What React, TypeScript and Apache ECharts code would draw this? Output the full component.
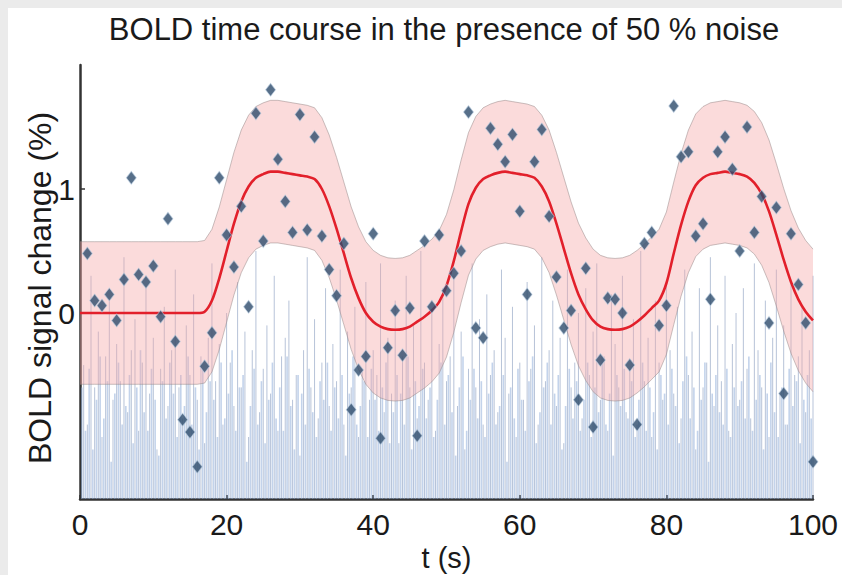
import React, { useEffect, useRef } from "react";
import * as echarts from "echarts";

// ---- data ----
const TITLE = "BOLD time course in the presence of 50 % noise";
const X_NAME = "t (s)";
const Y_NAME = "BOLD signal change (%)";
const X_TICKS = [0, 20, 40, 60, 80, 100];
const Y_TICKS = [0, 1];
const Y_MIN = -1.5;
const Y_MAX = 2;

// model (red line), one value per second, t = 0..100
const MODEL_T = [
  0, 1, 2, 3, 4, 5, 6, 7, 8, 9, 10, 11, 12, 13, 14, 15, 16, 17, 18, 19, 20,
  21, 22, 23, 24, 25, 26, 27, 28, 29, 30, 31, 32, 33, 34, 35, 36, 37, 38, 39, 40,
  41, 42, 43, 44, 45, 46, 47, 48, 49, 50, 51, 52, 53, 54, 55, 56, 57, 58, 59, 60,
  61, 62, 63, 64, 65, 66, 67, 68, 69, 70, 71, 72, 73, 74, 75, 76, 77, 78, 79, 80,
  81, 82, 83, 84, 85, 86, 87, 88, 89, 90, 91, 92, 93, 94, 95, 96, 97, 98, 99, 100,
];
const MODEL_V = [
  0, 0, 0, 0, 0, 0, 0, 0, 0, 0, 0, 0, 0, 0, 0, 0, 0, 0.01, 0.1, 0.28, 0.5,
  0.72, 0.9, 1.02, 1.09, 1.12, 1.14, 1.14, 1.13, 1.12, 1.11, 1.1, 1.08, 1.0, 0.86, 0.68, 0.48, 0.28, 0.12, 0.0, -0.07,
  -0.11, -0.13, -0.135, -0.13, -0.11, -0.07, -0.03, 0.02, 0.09, 0.22, 0.42, 0.66, 0.88, 1.01, 1.08, 1.11, 1.13, 1.14, 1.13, 1.12,
  1.11, 1.09, 1.02, 0.9, 0.72, 0.52, 0.32, 0.15, 0.03, -0.06, -0.11, -0.13, -0.135, -0.13, -0.11, -0.07, -0.02, 0.04, 0.1, 0.24,
  0.48, 0.71, 0.9, 1.03, 1.09, 1.12, 1.13, 1.14, 1.13, 1.12, 1.1, 1.05, 0.96, 0.82, 0.63, 0.43, 0.25, 0.11, 0.01, -0.06,
];
const BAND_HALF_WIDTH = 0.575;

// measured samples (diamonds), t = 1..100
const SAMPLE_T = [
  1, 2, 3, 4, 5, 6, 7, 8, 9, 10, 11, 12, 13, 14, 15, 16, 17, 18, 19, 20,
  21, 22, 23, 24, 25, 26, 27, 28, 29, 30, 31, 32, 33, 34, 35, 36, 37, 38, 39, 40,
  41, 42, 43, 44, 45, 46, 47, 48, 49, 50, 51, 52, 53, 54, 55, 56, 57, 58, 59, 60,
  61, 62, 63, 64, 65, 66, 67, 68, 69, 70, 71, 72, 73, 74, 75, 76, 77, 78, 79, 80,
  81, 82, 83, 84, 85, 86, 87, 88, 89, 90, 91, 92, 93, 94, 95, 96, 97, 98, 99, 100,
];
const SAMPLE_V = [
  0.48, 0.1, 0.06, 0.15, -0.06, 0.27, 1.09, 0.31, 0.25, 0.38,
  -0.03, 0.76, -0.23, -0.86, -0.96, -1.24, -0.43, -0.16, 1.09, 0.63,
  0.37, 0.86, 0.05, 1.61, 0.58, 1.8, 1.24, 0.9, 0.65, 1.6,
  0.67, 1.42, 0.62, 0.35, 0.14, 0.56, -0.78, -0.46, -0.35, 0.64,
  -1.01, -0.28, 0.02, -0.34, 0.04, -0.99, 0.58, 0.05, 0.63, 0.18,
  0.32, 0.5, 1.62, -0.12, -0.2, 1.49, 1.36, 1.22, 1.44, 0.82,
  0.15, 1.22, 1.48, 0.78, 0.29, -0.12, 0.02, -0.7, 0.36, -0.92,
  -0.38, 0.12, 0.11, 0.0, -0.42, -0.9, 0.56, 0.65, -0.1, 0.06,
  1.67, 1.26, 1.3, 0.62, 0.72, 0.11, 1.3, 1.42, 1.16, 0.5,
  1.5, 0.65, 0.94, -0.08, 0.85, -0.65, 0.64, 0.23, -0.08, -1.2,
];

// noise trace: thin vertical lines rising from the bottom of the plot
const NOISE_STEP = 0.5;
// tall strokes at t = 0.5, 1.0, ... 100
const NOISE_TOP = [
  -0.42, -0.9, 0.3, -0.6, -0.15, -1.0, -0.35, 0.1, -0.7, -0.25,
  -0.55, 0.45, -0.8, -0.3, -0.05, -0.95, -0.4, 0.2, -0.65, -0.2,
  -1.1, -0.45, 0.05, -0.75, -0.3, 0.35, -0.6, -0.85, -0.1, -0.5,
  0.15, -0.7, -0.35, -1.05, -0.2, 0.4, -0.55, -0.25, -0.9, 0.0,
  -0.4, -0.75, 0.25, -0.6, -0.15, -1.0, -0.3, 0.5, -0.8, -0.45,
  -0.1, -0.65, 0.3, -0.95, -0.35, -0.2, 0.1, -0.7, -0.5, -1.15,
  -0.3, 0.45, -0.6, -0.05, -0.85, -0.4, 0.2, -0.75, -0.25, -0.55,
  0.35, -0.9, -0.15, -0.6, 0.05, -1.0, -0.45, 0.25, -0.7, -0.3,
  -0.5, 0.4, -0.8, -0.2, -0.65, 0.1, -1.05, -0.35, 0.3, -0.6,
  -0.1, -0.85, 0.5, -0.4, -0.7, 0.0, -0.95, -0.25, 0.2, -0.55,
  -0.35, 0.3, -0.75, -0.15, -1.1, -0.45, 0.4, -0.6, -0.05, -0.9,
  0.15, -0.5, -0.3, -0.8, 0.35, -0.2, -0.65, 0.05, -1.0, -0.4,
  -0.7, 0.25, -0.45, -0.1, -0.9, 0.45, -0.55, -0.3, 0.1, -0.75,
  -0.2, -1.05, 0.35, -0.6, -0.4, 0.0, -0.85, 0.2, -0.5, -0.15,
  0.4, -0.7, -0.35, -0.95, 0.15, -0.25, -0.6, 0.3, -0.8, -0.45,
  -0.05, -0.9, 0.5, -0.55, -0.2, -1.0, 0.1, -0.4, -0.7, 0.25,
  -0.3, -0.65, 0.05, -0.85, 0.35, -0.5, -0.15, -1.1, 0.2, -0.6,
  -0.4, 0.45, -0.75, -0.1, -0.55, 0.3, -0.95, -0.25, 0.0, -0.7,
  0.2, -0.45, -0.85, 0.4, -0.3, -0.6, 0.1, -1.0, -0.2, 0.35,
  -0.65, -0.1, -0.9, 0.25, -0.5, -0.35, 0.05, -0.8, -0.3, 0.3,
];
// short, lighter strokes at t = 0.25, 0.75, ... 99.75
const NOISE_LOW = [
  -0.6, -0.95, -0.45, -1.1, -0.7, -0.35, -0.85, -0.55, -1.2, -0.65,
  -0.4, -0.9, -0.75, -0.5, -1.05, -0.6, -0.3, -0.8, -0.95, -0.45,
  -0.7, -1.15, -0.55, -0.85, -0.4, -0.65, -1.0, -0.5, -0.75, -0.35,
  -0.9, -0.6, -1.1, -0.45, -0.8, -0.55, -0.7, -1.0, -0.4, -0.85,
  -0.65, -0.3, -0.95, -0.6, -0.5, -1.2, -0.75, -0.45, -0.9, -0.55,
  -1.05, -0.7, -0.4, -0.85, -0.6, -0.95, -0.35, -0.75, -1.1, -0.5,
  -0.65, -0.9, -0.45, -0.8, -1.0, -0.55, -0.7, -0.4, -0.95, -0.6,
  -0.85, -0.5, -1.15, -0.65, -0.35, -0.9, -0.75, -0.55, -1.0, -0.45,
  -0.7, -0.95, -0.6, -0.4, -1.05, -0.8, -0.5, -0.65, -0.9, -0.35,
  -1.1, -0.55, -0.75, -0.45, -0.85, -0.6, -1.0, -0.7, -0.4, -0.9,
  -0.5, -0.8, -1.15, -0.6, -0.35, -0.95, -0.7, -0.45, -0.85, -0.55,
  -1.0, -0.65, -0.4, -0.9, -0.75, -0.5, -1.2, -0.6, -0.85, -0.45,
  -0.7, -0.95, -0.55, -0.35, -1.05, -0.8, -0.6, -0.4, -0.9, -0.65,
  -0.5, -1.1, -0.75, -0.45, -0.85, -0.55, -0.95, -0.7, -0.4, -1.0,
  -0.6, -0.8, -0.35, -0.9, -0.65, -1.15, -0.5, -0.75, -0.45, -0.85,
  -0.55, -1.0, -0.7, -0.4, -0.95, -0.6, -0.8, -1.1, -0.5, -0.65,
  -0.9, -0.45, -0.75, -1.05, -0.55, -0.35, -0.85, -0.6, -0.95, -0.7,
  -0.4, -1.2, -0.65, -0.5, -0.8, -0.9, -0.45, -1.0, -0.6, -0.75,
  -0.55, -0.85, -0.35, -0.95, -0.7, -0.5, -1.1, -0.65, -0.4, -0.8,
  -1.0, -0.6, -0.9, -0.45, -0.75, -0.55, -1.05, -0.7, -0.5, -0.85,
];

const FONT = "'Liberation Sans', Arial, Helvetica, sans-serif";

function stemSeries(name: string, data: number[][], stroke: string, width: number) {
  return {
    type: "custom",
    name,
    z: 1,
    silent: true,
    data,
    renderItem: (params: any, api: any) => {
      const x = api.value(0);
      const y = api.value(1);
      const p0 = api.coord([x, Y_MIN]);
      const p1 = api.coord([x, y]);
      return {
        type: "line",
        shape: { x1: p0[0], y1: p0[1], x2: p1[0], y2: p1[1] },
        style: { stroke, lineWidth: width },
      };
    },
  };
}

export default function App() {
  const ref = useRef<HTMLDivElement>(null);

  useEffect(() => {
    document.body.style.margin = "0";
    document.body.style.overflow = "hidden";
    const chart = echarts.init(ref.current as HTMLDivElement, null, { renderer: "svg" });

    const noiseTall = NOISE_TOP.map((v, i) => [(i + 1) * NOISE_STEP, v]);
    const noiseLow = NOISE_LOW.map((v, i) => [(i + 0.5) * NOISE_STEP, v]);
    const lowerData = MODEL_T.map((t, i) => [t, MODEL_V[i] - BAND_HALF_WIDTH]);
    const upperData = MODEL_T.map((t, i) => [t, MODEL_V[i] + BAND_HALF_WIDTH]);
    const modelData = MODEL_T.map((t, i) => [t, MODEL_V[i]]);
    const sampleData = SAMPLE_T.map((t, i) => [t, SAMPLE_V[i]]);

    const edgeStyle = { color: "rgba(150,135,135,0.5)", width: 1 };

    const option: any = {
      animation: false,
      backgroundColor: "#ffffff",
      textStyle: { fontFamily: FONT },
      graphic: [
        {
          type: "text",
          x: 436,
          y: 21,
          style: {
            text: TITLE,
            fontSize: 31,
            fontFamily: FONT,
            fill: "#1a1a1a",
            textAlign: "center",
            textVerticalAlign: "middle",
          },
        },
        {
          type: "text",
          x: 32,
          y: 280,
          rotation: Math.PI / 2,
          style: {
            text: Y_NAME,
            fontSize: 32,
            fontFamily: FONT,
            fill: "#1a1a1a",
            textAlign: "center",
            textVerticalAlign: "middle",
          },
        },
      ],
      grid: { left: 72, right: 29, top: 57, bottom: 76, containLabel: false, outerBoundsMode: "none" },
      xAxis: {
        type: "value",
        min: 0,
        max: 100,
        interval: 20,
        axisLine: { show: true, onZero: false, lineStyle: { color: "#333", width: 2.5 } },
        axisTick: { show: true, inside: true, length: 4, lineStyle: { color: "#333", width: 1.5 } },
        axisLabel: {
          fontSize: 30,
          color: "#1a1a1a",
          fontFamily: FONT,
          margin: 10,
          customValues: X_TICKS,
        },
        splitLine: { show: false },
        name: X_NAME,
        nameLocation: "middle",
        nameGap: 35,
        nameTextStyle: { fontSize: 29, color: "#1a1a1a", fontFamily: FONT },
      },
      yAxis: {
        type: "value",
        min: Y_MIN,
        max: Y_MAX,
        axisLine: { show: true, onZero: false, lineStyle: { color: "#333", width: 2.5 } },
        axisTick: { show: true, inside: true, length: 5, customValues: Y_TICKS, lineStyle: { color: "#333", width: 1.5 } },
        axisLabel: {
          fontSize: 30,
          color: "#1a1a1a",
          fontFamily: FONT,
          margin: 5,
          customValues: Y_TICKS,
        },
        splitLine: { show: false },
      },
      series: [
        stemSeries("noiseLow", noiseLow, "rgba(135,168,215,0.5)", 1.6),
        stemSeries("noiseTall", noiseTall, "rgba(95,122,168,0.45)", 1),
        {
          type: "custom",
          name: "band",
          z: 2,
          silent: true,
          data: [[0, 0]],
          renderItem: (params: any, api: any) => {
            const pts: number[][] = [];
            upperData.forEach((d) => pts.push(api.coord(d)));
            for (let i = lowerData.length - 1; i >= 0; i--) pts.push(api.coord(lowerData[i]));
            return {
              type: "polygon",
              shape: { points: pts },
              style: { fill: "rgba(245,165,165,0.4)", stroke: "none" },
            };
          },
        },
        {
          type: "line",
          name: "bandLower",
          z: 3,
          data: lowerData,
          showSymbol: false,
          symbol: "none",
          lineStyle: edgeStyle,
          silent: true,
        },
        {
          type: "line",
          name: "bandUpper",
          z: 3,
          data: upperData,
          showSymbol: false,
          symbol: "none",
          lineStyle: edgeStyle,
          silent: true,
        },
        {
          type: "line",
          name: "model",
          z: 4,
          data: modelData,
          showSymbol: false,
          symbol: "none",
          smooth: 0.3,
          lineStyle: { color: "#e2202b", width: 2.6 },
          silent: true,
        },
        {
          type: "scatter",
          name: "samples",
          z: 5,
          data: sampleData,
          symbol: "diamond",
          symbolSize: [10, 13],
          itemStyle: { color: "#2d4b6c", borderColor: "rgba(190,210,230,0.7)", borderWidth: 1 },
          silent: true,
        },
      ],
    };

    chart.setOption(option);
    return () => chart.dispose();
  }, []);

  return (
    <div
      style={{
        width: 842,
        height: 575,
        background: "#ebebeb",
        paddingTop: 8,
        paddingLeft: 8,
        boxSizing: "border-box",
        overflow: "hidden",
      }}
    >
      <div ref={ref} style={{ width: 834, height: 567, background: "#ffffff" }} />
    </div>
  );
}
